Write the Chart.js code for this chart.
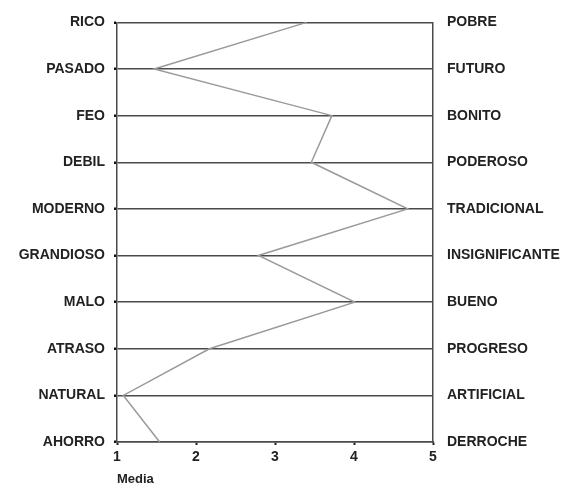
<!DOCTYPE html>
<html>
<head>
<meta charset="utf-8">
<script src="https://cdn.jsdelivr.net/npm/chart.js@4.4.1/dist/chart.umd.min.js"></script>
<style>
    html, body { margin: 0; padding: 0; background: #fff; }
    #wrap { width: 571px; height: 498px; }
</style>
</head>
<body>
<div id="wrap"><canvas id="profileChart"></canvas></div>
<script>
const leftLabels = ['RICO', 'PASADO', 'FEO', 'DEBIL', 'MODERNO', 'GRANDIOSO', 'MALO', 'ATRASO', 'NATURAL', 'AHORRO'];
const rightLabels = ['POBRE', 'FUTURO', 'BONITO', 'PODEROSO', 'TRADICIONAL', 'INSIGNIFICANTE', 'BUENO', 'PROGRESO', 'ARTIFICIAL', 'DERROCHE'];
const media = [3.40, 1.47, 3.72, 3.46, 4.68, 2.79, 4.01, 2.17, 1.08, 1.54];
const xTicks = [1, 2, 3, 4, 5];

const labelFont = { family: "'Liberation Sans', Arial, sans-serif", size: 14, weight: 'bold' };
const lineColor = '#4a4a4a';

const ctx = document.getElementById('profileChart').getContext('2d');
const profileChart = new Chart(ctx, {
    type: 'line',
    data: {
        labels: leftLabels,
        datasets: [{
            label: 'Media',
            data: media,
            borderColor: '#9a9a9a',
            borderWidth: 1.5,
            pointRadius: 0,
            tension: 0,
            yAxisID: 'y',
            xAxisID: 'x'
        }]
    },
    options: {
        indexAxis: 'y',
        responsive: true,
        maintainAspectRatio: false,
        animation: false,
        layout: {
            padding: { top: 22, left: 0, right: 0, bottom: 0 }
        },
        plugins: {
            legend: { display: false },
            tooltip: { enabled: false }
        },
        scales: {
            x: {
                type: 'linear',
                position: 'bottom',
                min: 1,
                max: 5,
                afterBuildTicks: function(scale) {
                    scale.ticks = xTicks.map(v => ({ value: v }));
                },
                afterFit: function(scale) {
                    scale.height = 56;
                },
                ticks: {
                    font: { family: labelFont.family, size: 14, weight: 'bold' },
                    color: '#222',
                    padding: 4,
                    maxRotation: 0
                },
                grid: {
                    drawOnChartArea: false,
                    tickLength: 3,
                    tickWidth: 2,
                    tickColor: '#222'
                },
                border: { display: true, color: lineColor, width: 1.5 },
                title: {
                    display: true,
                    text: 'Media',
                    align: 'start',
                    color: '#222',
                    font: { family: labelFont.family, size: 13, weight: 'bold' },
                    padding: { top: 4, bottom: 11 }
                }
            },
            y: {
                type: 'category',
                position: 'left',
                offset: false,
                afterFit: function(scale) {
                    scale.width = 117;
                },
                ticks: {
                    font: labelFont,
                    color: '#222',
                    padding: 9
                },
                grid: {
                    color: lineColor,
                    lineWidth: 1.5,
                    tickLength: 3,
                    tickWidth: 2.5,
                    tickColor: '#111'
                },
                border: { display: true, color: lineColor, width: 1.5 }
            },
            yRight: {
                type: 'category',
                position: 'right',
                labels: rightLabels,
                offset: false,
                afterFit: function(scale) {
                    scale.width = 138;
                },
                ticks: {
                    font: labelFont,
                    color: '#222',
                    padding: 14
                },
                grid: { display: false, drawTicks: false },
                border: { display: true, color: lineColor, width: 1.5 }
            }
        }
    }
});
</script>
</body>
</html>
